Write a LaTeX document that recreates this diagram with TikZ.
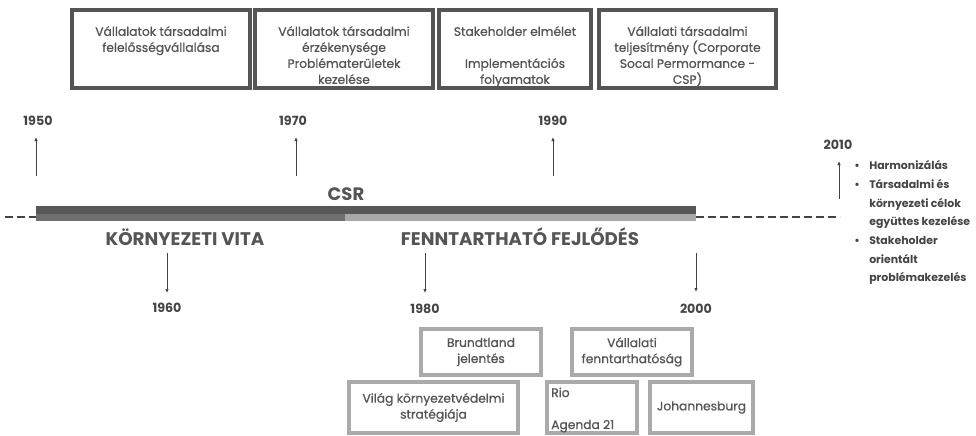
\documentclass[tikz,border=0pt]{standalone}
\usepackage{fontspec}
\setmainfont{Poppins}
\newfontfamily\medfont{Poppins}[FakeBold=0.8]
\newcommand\mytightlines{\lineskiplimit=-10pt\relax}
\usetikzlibrary{arrows.meta}
\definecolor{txt}{HTML}{555555}
\definecolor{yr}{HTML}{444444}
\definecolor{darkbar}{HTML}{585858}
\definecolor{midbar}{HTML}{6E6E6E}
\definecolor{lightbar}{HTML}{A9A9A9}
\definecolor{topborder}{HTML}{555555}
\definecolor{botborder}{HTML}{AAAAAA}
\tikzset{
  topbox/.style={draw=topborder, line width=3pt, minimum height=58.5pt, inner sep=0pt, fill=white},
  botbox/.style={draw=botborder, line width=3pt, minimum height=34.5pt, inner sep=0pt, fill=white},
  boxtext/.style={text=txt, font=\medfont\fontsize{9.2}{12}\selectfont\mytightlines, align=center, inner sep=0pt},
  yearlbl/.style={text=yr, font=\bfseries\fontsize{9.5}{11}\selectfont, inner sep=0pt},
  eralbl/.style={text=txt, font=\bfseries\fontsize{13.7}{15}\selectfont, inner sep=0pt},
  tick/.style={draw=yr, line width=0.75pt, -{Latex[length=3pt,width=2.6pt]}},
  dashline/.style={draw=yr, line width=1.9pt, dash pattern=on 6pt off 3pt},
}
\begin{document}
\begin{tikzpicture}[x=0.75pt,y=-0.75pt]
\useasboundingbox (0,0) rectangle (976,436);

% top boxes
\node[topbox, minimum width=133.5pt] (b1) at (161,49) {};
\node[topbox, minimum width=133.5pt] (b2) at (344,49) {};
\node[topbox, minimum width=114pt] (b3) at (515,49) {};
\node[topbox, minimum width=132.75pt] (b4) at (687.5,49) {};
\node[boxtext, anchor=north] (t1) at (161,26) {Vállalatok társadalmi\\felelősségvállalása};
\node[boxtext, anchor=north] (t2) at (344,26) {Vállalatok társadalmi\\érzékenysége\\Problématerületek\\kezelése};
\node[boxtext, anchor=north] (t3) at (515,26) {Stakeholder elmélet\\[12pt]Implementációs\\folyamatok};
\node[boxtext, anchor=north] (t4) at (687.5,26) {Vállalati társadalmi\\teljesítmény (Corporate\\Socal Permormance -\\CSP)};

% timeline bars
\fill[darkbar] (36,206) rectangle (696,213.5);
\fill[midbar] (36,213.5) rectangle (345,221);
\fill[lightbar] (345,213.5) rectangle (696,221);
\coordinate (dl0) at (5,217);
\coordinate (dl1) at (36,217);
\coordinate (dr0) at (696,217);
\coordinate (dr1) at (840,217);
\draw[dashline] (dl0) -- (dl1);
\draw[dashline] (dr0) -- (dr1);

\node[text=txt, font=\bfseries\fontsize{13.5}{15}\selectfont, inner sep=0pt] (csr) at (346,194) {CSR};
\node[eralbl] (kv) at (185,237) {KÖRNYEZETI VITA};
\node[eralbl] (ff) at (520,237) {FENNTARTHATÓ FEJLŐDÉS};

% upward ticks
\coordinate (u1a) at (36,176);   \coordinate (u1b) at (36,137);
\coordinate (u2a) at (296,176);  \coordinate (u2b) at (296,137);
\coordinate (u3a) at (553,176);  \coordinate (u3b) at (553,137);
\coordinate (u4a) at (839,199);  \coordinate (u4b) at (839,161);
\draw[tick] (u1a) -- (u1b);
\draw[tick] (u2a) -- (u2b);
\draw[tick] (u3a) -- (u3b);
\draw[tick] (u4a) -- (u4b);
\node[yearlbl] (y1950) at (38,121) {1950};
\node[yearlbl] (y1970) at (293,121) {1970};
\node[yearlbl] (y1990) at (553,121) {1990};
\node[yearlbl] (y2010) at (838,145) {2010};

% downward ticks
\coordinate (d1a) at (167,253);  \coordinate (d1b) at (167,293);
\coordinate (d2a) at (425,253);  \coordinate (d2b) at (425,293);
\coordinate (d3a) at (696,253);  \coordinate (d3b) at (696,292);
\draw[tick] (d1a) -- (d1b);
\draw[tick] (d2a) -- (d2b);
\draw[tick] (d3a) -- (d3b);
\node[yearlbl] (y1960) at (167,308) {1960};
\node[yearlbl] (y1980) at (425,309) {1980};
\node[yearlbl] (y2000) at (696,309) {2000};

% right list
\node[anchor=north west, inner sep=0pt, text=yr, font=\bfseries\fontsize{8.2}{14}\selectfont] (list) at (854,156.5) {%
\begin{tabular}{@{}l@{}l@{}}
\makebox[11.25pt][l]{•} & Harmonizálás\\
\makebox[11.25pt][l]{•} & Társadalmi és\\
 & környezeti célok\\
 & együttes kezelése\\
\makebox[11.25pt][l]{•} & Stakeholder\\
 & orientált\\
 & problémakezelés
\end{tabular}};

% bottom boxes
\node[botbox, minimum width=90pt] (bb1) at (481,352) {};
\node[boxtext] (bt1) at (481,352) {Brundtland\\jelentés};
\node[botbox, minimum width=90pt] (bb2) at (632,352) {};
\node[boxtext] (bt2) at (632,352) {Vállalati\\fenntarthatóság};
\node[botbox, minimum width=126.75pt, minimum height=38.25pt] (bb3) at (433.5,407.5) {};
\node[boxtext] (bt3) at (433.5,407.5) {Világ környezetvédelmi\\stratégiája};
\node[botbox, minimum width=67.5pt, minimum height=38.25pt] (bb4) at (592,407.5) {};
\node[boxtext, align=left, anchor=west] (bt4) at (551,410) {Rio\\[12pt]Agenda 21};
\node[botbox, minimum width=77.25pt, minimum height=38.25pt] (bb5) at (701.5,407.5) {};
\node[boxtext] (bt5) at (701.5,407.5) {Johannesburg};
\end{tikzpicture}
\end{document}
